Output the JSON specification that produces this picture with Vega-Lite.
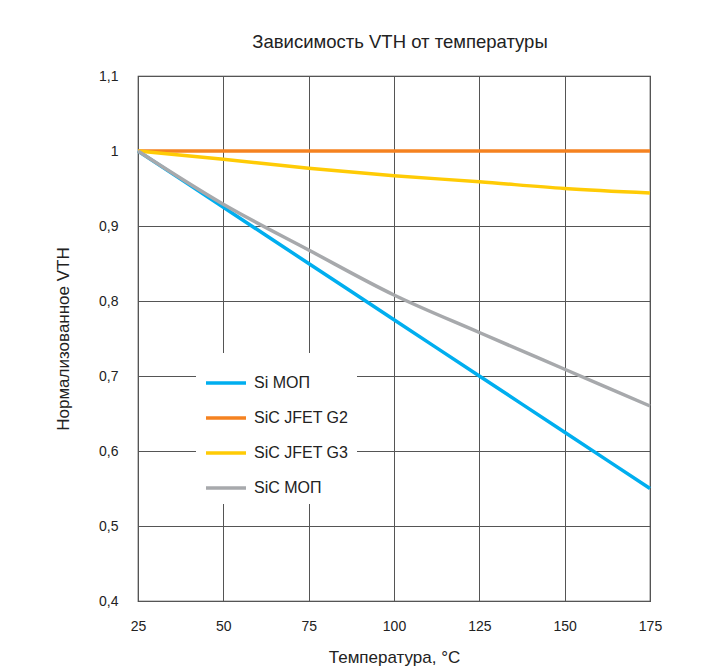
{
  "$schema": "https://vega.github.io/schema/vega-lite/v6.json",
  "width": 512,
  "height": 525,
  "autosize": "none",
  "padding": {"left": 138, "top": 76, "right": 51, "bottom": 70},
  "background": "white",
  "title": {
    "text": "Зависимость VTH от температуры",
    "fontSize": 18.5,
    "font": "Liberation Sans",
    "fontWeight": "normal",
    "color": "#222",
    "offset": 18,
    "dx": 6
  },
  "data": {
    "values": [
      {"t": 25, "v": 1.0, "s": "Si МОП"},
      {"t": 50, "v": 0.925, "s": "Si МОП"},
      {"t": 75, "v": 0.85, "s": "Si МОП"},
      {"t": 100, "v": 0.775, "s": "Si МОП"},
      {"t": 125, "v": 0.7, "s": "Si МОП"},
      {"t": 150, "v": 0.625, "s": "Si МОП"},
      {"t": 175, "v": 0.55, "s": "Si МОП"},
      {"t": 25, "v": 1.0, "s": "SiC JFET G2"},
      {"t": 100, "v": 1.0, "s": "SiC JFET G2"},
      {"t": 175, "v": 1.0, "s": "SiC JFET G2"},
      {"t": 25, "v": 1.0, "s": "SiC JFET G3"},
      {"t": 50, "v": 0.989, "s": "SiC JFET G3"},
      {"t": 75, "v": 0.977, "s": "SiC JFET G3"},
      {"t": 100, "v": 0.967, "s": "SiC JFET G3"},
      {"t": 125, "v": 0.959, "s": "SiC JFET G3"},
      {"t": 150, "v": 0.95, "s": "SiC JFET G3"},
      {"t": 175, "v": 0.944, "s": "SiC JFET G3"},
      {"t": 25, "v": 1.0, "s": "SiC МОП"},
      {"t": 50, "v": 0.929, "s": "SiC МОП"},
      {"t": 75, "v": 0.868, "s": "SiC МОП"},
      {"t": 100, "v": 0.808, "s": "SiC МОП"},
      {"t": 125, "v": 0.758, "s": "SiC МОП"},
      {"t": 150, "v": 0.709, "s": "SiC МОП"},
      {"t": 175, "v": 0.66, "s": "SiC МОП"}
    ]
  },
  "mark": {"type": "line", "strokeWidth": 3.5, "interpolate": "monotone"},
  "encoding": {
    "x": {
      "field": "t",
      "type": "quantitative",
      "scale": {"domain": [25, 175], "nice": false},
      "axis": {
        "title": "Температура, °C",
        "values": [25, 50, 75, 100, 125, 150, 175],
        "labelFlush": false,
        "titlePadding": 16
      }
    },
    "y": {
      "field": "v",
      "type": "quantitative",
      "scale": {"domain": [0.4, 1.1], "nice": false, "zero": false},
      "axis": {
        "title": "Нормализованное VTH",
        "values": [0.4, 0.5, 0.6, 0.7, 0.8, 0.9, 1.0, 1.1],
        "labelExpr": "replace(format(datum.value, '.1~f'), '.', ',')",
        "labelFlush": false,
        "labelPadding": 20,
        "titlePadding": 26
      }
    },
    "color": {
      "field": "s",
      "type": "nominal",
      "scale": {
        "domain": ["Si МОП", "SiC JFET G2", "SiC JFET G3", "SiC МОП"],
        "range": ["#00AEEF", "#F58220", "#FFCB05", "#A7A9AC"]
      },
      "legend": {
        "title": null,
        "orient": "none",
        "legendX": 58,
        "legendY": 277,
        "fillColor": "white",
        "padding": 8,
        "symbolType": "stroke",
        "symbolSize": 1600,
        "symbolStrokeWidth": 3.5,
        "labelFontSize": 16,
        "labelFont": "Liberation Sans",
        "labelColor": "#222",
        "labelOffset": 6,
        "rowPadding": 5
      }
    }
  },
  "config": {
    "view": {"stroke": "#333", "strokeWidth": 1.2},
    "axis": {
      "grid": true,
      "gridColor": "#555",
      "gridOpacity": 1,
      "gridWidth": 1,
      "domain": false,
      "ticks": false,
      "labelFont": "Liberation Sans",
      "labelFontSize": 14,
      "labelColor": "#222",
      "titleFont": "Liberation Sans",
      "titleFontSize": 17,
      "titleFontWeight": "normal",
      "titleColor": "#222"
    },
    "axisX": {"labelPadding": 18}
  }
}
